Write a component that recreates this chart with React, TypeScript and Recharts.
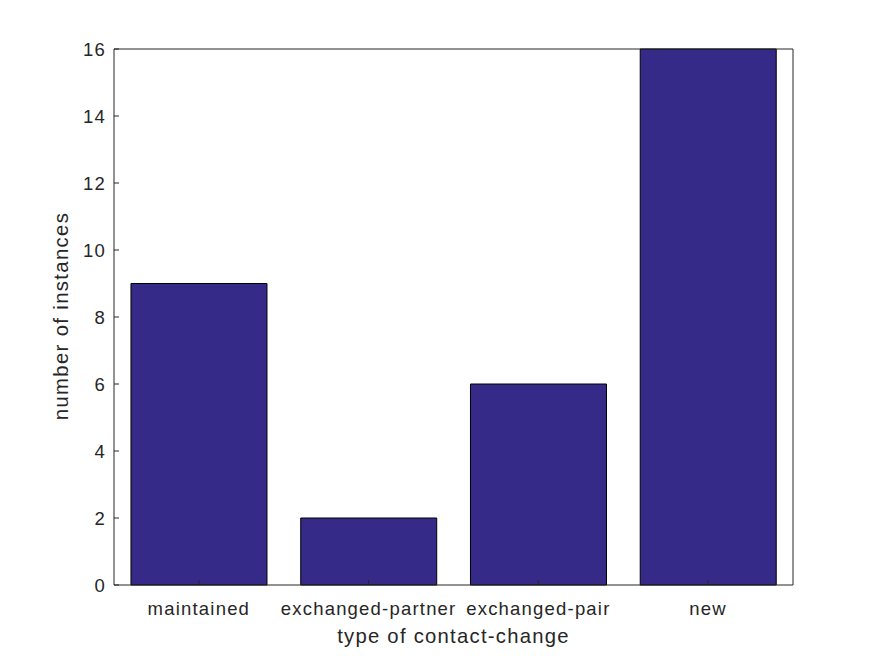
import React from 'react';
import { BarChart, Bar, XAxis, YAxis, Label } from 'recharts';

const categories = ['maintained', 'exchanged-partner', 'exchanged-pair', 'new'];
const instances = [9, 2, 6, 16];
const yTicks = [0, 2, 4, 6, 8, 10, 12, 14, 16];

const data = categories.map((c, i) => ({ category: c, count: instances[i] }));

const FONT = '"Liberation Sans", Arial, Helvetica, sans-serif';
const AX = '#262626';
const tickStyle = { fill: AX, fontSize: 18.5, fontFamily: FONT, letterSpacing: 1.2 };

export default function App() {
  return (
    <div style={{ position: 'absolute', left: 0, top: 0, width: 875, height: 656, background: '#fff' }}>
      <BarChart
        width={875}
        height={656}
        data={data}
        margin={{ top: 47, right: 80, bottom: 0, left: 0 }}
        barCategoryGap="10%"
      >
        <XAxis
          dataKey="category"
          height={71}
          stroke={AX}
          tickSize={-5}
          tickMargin={22.2}
          tick={tickStyle}
          interval={0}
        >
          <Label
            content={(props: any) => {
              const vb = props.viewBox;
              return (
                <text
                  x={vb.x + vb.width / 2}
                  y={vb.y + 58}
                  textAnchor="middle"
                  fill={AX}
                  fontSize={20.3}
                  fontFamily={FONT}
                  letterSpacing={1.25}
                >
                  type of contact-change
                </text>
              );
            }}
          />
        </XAxis>
        <XAxis
          xAxisId="top"
          dataKey="category"
          orientation="top"
          height={2}
          stroke={AX}
          tickSize={-5}
          tick={false}
          interval={0}
        />
        <YAxis
          width={114}
          domain={[0, 16]}
          ticks={yTicks}
          stroke={AX}
          tickSize={-5}
          tickMargin={13}
          tick={tickStyle}
          interval={0}
        >
          <Label
            content={(props: any) => {
              const vb = props.viewBox;
              const cx = vb.x + 68;
              const cy = vb.y + vb.height / 2 - 1;
              return (
                <text
                  x={cx}
                  y={cy}
                  transform={`rotate(-90, ${cx}, ${cy})`}
                  textAnchor="middle"
                  fill={AX}
                  fontSize={20.3}
                  fontFamily={FONT}
                  letterSpacing={1.35}
                >
                  number of instances
                </text>
              );
            }}
          />
        </YAxis>
        <YAxis
          yAxisId="r"
          orientation="right"
          width={2}
          domain={[0, 16]}
          ticks={yTicks}
          stroke={AX}
          tickSize={-5}
          tick={false}
          interval={0}
        />
        <Bar dataKey="count" fill="#352A87" stroke="#000" strokeWidth={1} isAnimationActive={false} />
      </BarChart>
    </div>
  );
}
